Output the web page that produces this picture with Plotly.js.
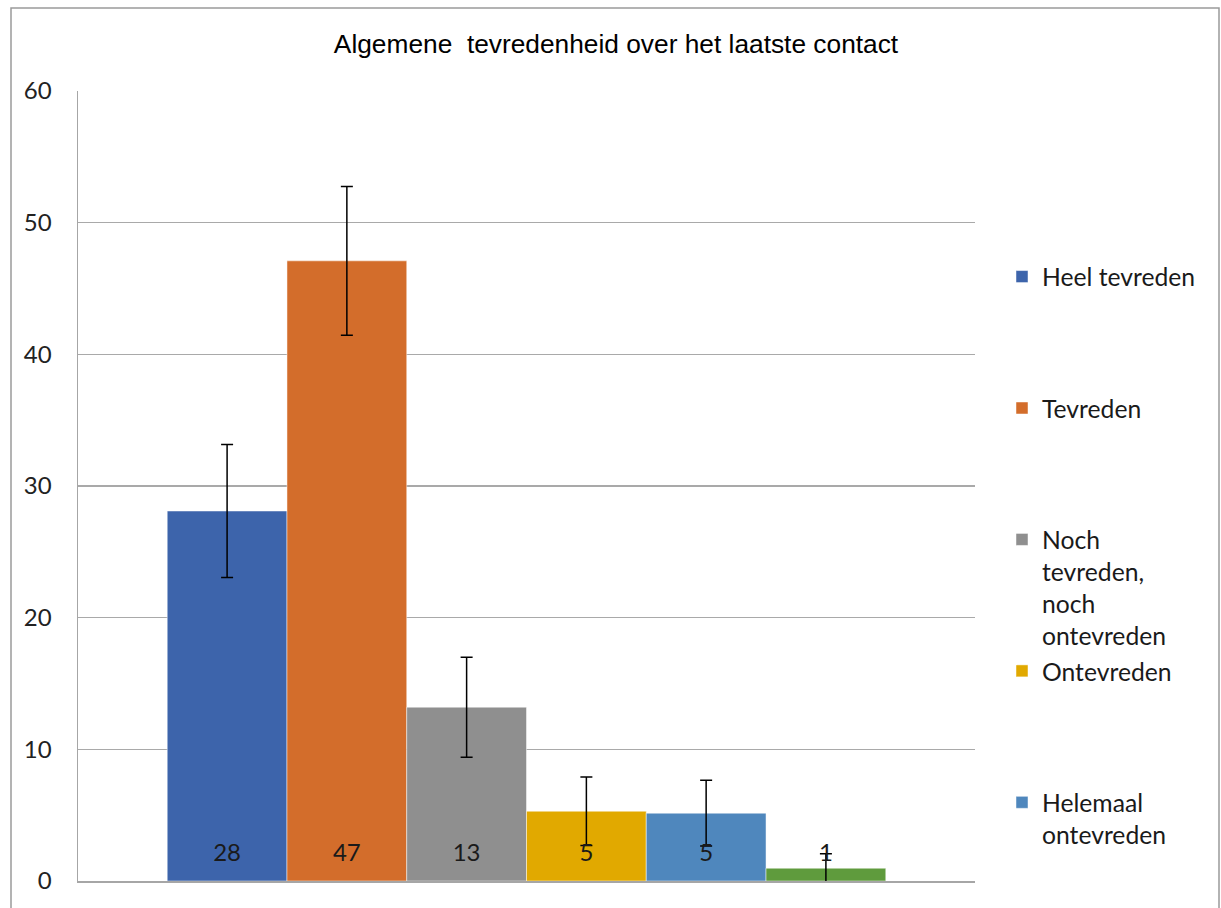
<!DOCTYPE html>
<html>
<head>
<meta charset="utf-8">
<script src="https://cdn.plot.ly/plotly-3.0.1.min.js"></script>
<style>
html,body{margin:0;padding:0;background:#fff;}
#chart{width:1221px;height:908px;}
</style>
</head>
<body>
<div id="chart"></div>
<script>
// ---- data ----
const categories = ['Heel tevreden', 'Tevreden', 'Noch tevreden, noch ontevreden', 'Ontevreden', 'Helemaal ontevreden', 'Weet niet'];
const legendLabels = ['Heel tevreden', 'Tevreden', 'Noch<br>tevreden,<br>noch<br>ontevreden', 'Ontevreden', 'Helemaal<br>ontevreden', 'Weet niet'];
const values = [28.1, 47.1, 13.2, 5.3, 5.15, 0.97];
const errors = [5.05, 5.65, 3.8, 2.6, 2.5, 1.1];
const dataLabels = ['28', '47', '13', '5', '5', '1'];
const colors = ['#3D64AB', '#D36D2B', '#8F8F8F', '#E1A900', '#4F87BD', '#5F9B3D'];
const showInLegend = [true, true, true, true, true, false];
const yTicks = [0, 10, 20, 30, 40, 50, 60];

// ---- layout helpers (pixels -> paper) ----
const W = 1221, H = 908;
const M = {l: 78, r: 246, t: 91, b: 27, autoexpand: false};
const PW = W - M.l - M.r, PH = H - M.t - M.b;
const px2x = px => (px - M.l) / PW;
const px2y = py => (H - M.b - py) / PH;

function padLines(s, n) {
  const cnt = s.split('<br>').length;
  let out = s;
  for (let i = cnt; i < n; i++) out += '<br> ';
  return out;
}

const traces = categories.map((c, i) => ({
  type: 'bar',
  name: padLines(legendLabels[i], 4),
  x: [i],
  y: [values[i]],
  width: [1],
  marker: {color: colors[i], line: {color: 'rgba(255,255,255,0.6)', width: 0.8}},
  error_y: {type: 'data', array: [errors[i]], visible: true, color: '#000', thickness: 1.5, width: 6},
  showlegend: showInLegend[i],
  hovertemplate: c + ': %{y}<extra></extra>'
}));

const LABEL_Y = 2.0;
traces.push({
  type: 'scatter',
  mode: 'text',
  x: categories.map((c, i) => i),
  y: categories.map(() => LABEL_Y),
  text: dataLabels,
  textposition: 'middle center',
  textfont: {family: 'Lato, "Open Sans", sans-serif', size: 24, color: '#1a1a1a'},
  showlegend: false,
  hoverinfo: 'skip'
});

const layout = {
  width: W, height: H,
  margin: M,
  paper_bgcolor: '#fff',
  plot_bgcolor: '#fff',
  barmode: 'overlay',
  title: {
    text: 'Algemene&nbsp; tevredenheid over het laatste contact',
    font: {family: '"Liberation Sans", Arial, sans-serif', size: 26.3, color: '#000'},
    x: 616 / W, xref: 'container', xanchor: 'center',
    y: 1 - 44 / H, yref: 'container', yanchor: 'middle'
  },
  xaxis: {
    range: [-1.245, 6.245],
    showticklabels: false,
    showgrid: false,
    zeroline: false,
    showline: true,
    linecolor: '#a6a6a6',
    linewidth: 1.5,
    ticks: '',
    fixedrange: true
  },
  yaxis: {
    range: [0, 60],
    tickvals: yTicks,
    ticktext: yTicks.map(String),
    showgrid: true,
    gridcolor: '#a9a9a9',
    gridwidth: 1.2,
    zeroline: false,
    showline: true,
    linecolor: '#a6a6a6',
    linewidth: 1.5,
    ticks: '',
    ticklabelstandoff: 20,
    tickfont: {family: 'Lato, "Open Sans", sans-serif', size: 24, color: '#222'},
    fixedrange: true
  },
  legend: {
    x: px2x(1002), xanchor: 'left',
    y: px2y(254), yanchor: 'top',
    valign: 'top',
    font: {family: 'Lato, "Open Sans", sans-serif', size: 24.7, color: '#1a1a1a'},
    bgcolor: 'rgba(0,0,0,0)',
    traceorder: 'normal',
    itemclick: false
  },
  shapes: [{
    type: 'rect', xref: 'paper', yref: 'paper',
    x0: px2x(11), x1: px2x(1219), y0: px2y(930), y1: px2y(8),
    line: {color: '#9a9a9a', width: 1.5}, fillcolor: 'rgba(0,0,0,0)', layer: 'above'
  }],
  showlegend: true
};

Plotly.newPlot('chart', traces, layout, {displayModeBar: false, staticPlot: true});
</script>
</body>
</html>
